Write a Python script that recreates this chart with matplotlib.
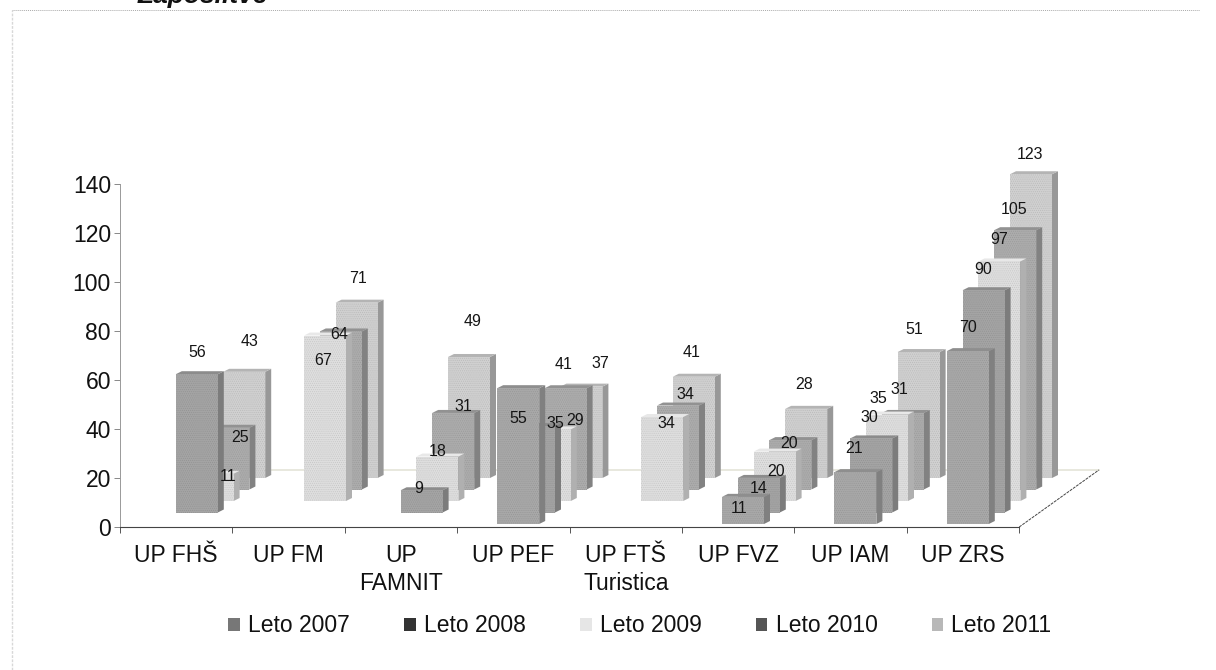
import matplotlib
matplotlib.use("Agg")
import matplotlib.pyplot as plt
from matplotlib.patches import Patch

W, H = 1216, 670

categories = ["UP FHŠ", "UP FM", "UP\nFAMNIT", "UP PEF", "UP FTŠ\nTuristica", "UP FVZ", "UP IAM", "UP ZRS"]
years = ["Leto 2007", "Leto 2008", "Leto 2009", "Leto 2010", "Leto 2011"]

leto_2007 = [None, None, None, 55, None, 11, 21, 70]
leto_2008 = [56, None, 9, 35, None, 14, 30, 90]
leto_2009 = [11, 67, 18, 29, 34, 20, 35, 97]
leto_2010 = [25, 64, 31, 41, 34, 20, 31, 105]
leto_2011 = [43, 71, 49, 37, 41, 28, 51, 123]
series = [leto_2007, leto_2008, leto_2009, leto_2010, leto_2011]

# label offsets from the top centre of each bar, in pixels (the labels were moved by hand in the original)
label_dx = [
    [0, 0, 0, 0, 0, -4, -1, 0],
    [0, 0, -3, 21, 0, 0, -2, 0],
    [15, -2, 0, 25, 4, 1, -9, 0],
    [12, -2, 10, -2, 7, -1, -3, -1],
    [5, 1, 4, 19, -2, -2, -4, -1],
]
label_dy = [
    [0, 0, 0, -30, 0, -12, 24, 24],
    [22, 0, 2, 3, 0, -11, 21, 21],
    [-3, -25, 5, 9, -6, -20, 16, 22],
    [-10, -3, 6, 24, 11, -3, 23, 21],
    [30, 24, 35, 23, 24, 24, 23, 20],
]

front_colors = ["#a8a8a8", "#a4a4a4", "#dedede", "#acacac", "#d0d0d0"]
side_colors = ["#808080", "#7c7c7c", "#b0b0b0", "#828282", "#989898"]
top_colors = ["#8e8e8e", "#8c8c8c", "#e8e8e8", "#929292", "#b4b4b4"]
legend_colors = ["#777777", "#333333", "#e6e6e6", "#555555", "#b8b8b8"]

PX_X = 112.4   # pixels per category
PX_Y = 2.45    # pixels per value unit
BAR_SCALE = 1.008
BAR_W = 42 / PX_X
SIDE_W = 6 / PX_X
CAP_H = 3 / PX_Y
FIRST_X = 40 / PX_X
STEP_X = 15.8 / PX_X
FIRST_Y = 3 / PX_Y
STEP_Y = 11.5 / PX_Y

plt.rcParams["font.family"] = ["Liberation Sans", "DejaVu Sans"]
plt.rcParams["hatch.linewidth"] = 0.5

fig = plt.figure(figsize=(W / 100, H / 100), dpi=100)
ax = fig.add_axes([120 / W, (H - 527) / H, 8 * PX_X / W, 343 / H])
ax.set_xlim(0, 8)
ax.set_ylim(0, 140)
ax.patch.set_visible(False)

for s in range(len(series) - 1, -1, -1):
    for c, value in enumerate(series[s]):
        if value is None:
            continue
        x0 = c + FIRST_X + s * STEP_X
        x1 = x0 + BAR_W
        y0 = FIRST_Y + s * STEP_Y
        top = y0 + value * BAR_SCALE
        ax.fill([x1, x1 + SIDE_W, x1 + SIDE_W, x1], [y0, y0 + CAP_H, top + CAP_H, top],
                color=side_colors[s], lw=0, clip_on=False, zorder=3 + (4 - s))
        ax.fill([x0, x0 + SIDE_W, x1 + SIDE_W, x1], [top, top + CAP_H, top + CAP_H, top],
                color=top_colors[s], lw=0, clip_on=False, zorder=3 + (4 - s))
        ax.fill([x0, x1, x1, x0], [y0, y0, top, top], facecolor=front_colors[s], edgecolor="#00000018",
                hatch="........", lw=0, clip_on=False, zorder=3 + (4 - s))

for s in range(len(series)):
    for c, value in enumerate(series[s]):
        if value is None:
            continue
        cx = c + FIRST_X + s * STEP_X + BAR_W / 2
        top = FIRST_Y + s * STEP_Y + value * BAR_SCALE
        ax.annotate(str(value), (cx, top), xytext=(label_dx[s][c], label_dy[s][c]),
                    textcoords="offset pixels", ha="center", va="center",
                    fontsize=11.5, color="#151515", annotation_clip=False, zorder=10)

# floor of the 3d box
ax.plot([0.7, 8.71], [23.3, 23.3], color="#e4e4d8", lw=1.2, clip_on=False, zorder=1)
ax.plot([8, 8.71], [0, 23.3], color="#444444", lw=0.7, ls=(0, (3, 1)), clip_on=False, zorder=1)

ax.set_xticks(range(9))
ax.set_xticklabels([])
ax.set_xticks([i + 0.5 for i in range(8)], minor=True)
ax.set_xticklabels(categories, minor=True, fontsize=16.5, color="#111111", linespacing=1.3)
ax.tick_params(axis="x", which="minor", length=0, pad=12)
ax.tick_params(axis="x", which="major", length=4, width=0.7, color="#555555")
ax.set_yticks(range(0, 141, 20))
ax.tick_params(axis="y", length=4, width=0.7, color="#888888", labelsize=16.5, labelcolor="#111111", pad=2.5)

for side in ["top", "right"]:
    ax.spines[side].set_visible(False)
ax.spines["left"].set_color("#999999")
ax.spines["left"].set_linewidth(0.7)
ax.spines["left"].set_linestyle((0, (1, 1)))
ax.spines["bottom"].set_color("#444444")
ax.spines["bottom"].set_linewidth(0.8)
ax.spines["bottom"].set_linestyle((0, (3, 1)))

handles = [Patch(facecolor=color, edgecolor="none", label=year) for color, year in zip(legend_colors, years)]
fig.legend(handles=handles, loc="center", bbox_to_anchor=(640 / W, (H - 626) / H), ncol=5, frameon=False,
           fontsize=16.5, handlelength=0.5, handleheight=0.5, handletextpad=0.35, columnspacing=2.38,
           labelcolor="#111111")

# scan edges and the clipped heading above the chart
fig.add_artist(plt.Line2D([12 / W, 1200 / W], [(H - 10) / H] * 2, color="#aaaaaa", lw=0.7, ls=(0, (1, 1))))
fig.add_artist(plt.Line2D([12 / W, 12 / W], [0, (H - 10) / H], color="#d8d8d8", lw=1.0, ls=(0, (2, 1))))
fig.text(138 / W, (H - 3) / H, "Zaposlitve", fontsize=19, fontweight="bold", fontstyle="italic", color="#111111")

fig.savefig("out.png", dpi=100)
